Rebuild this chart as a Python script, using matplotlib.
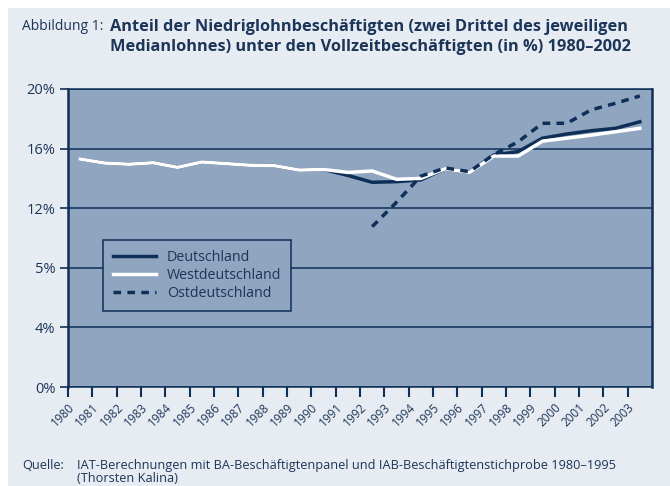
import matplotlib
matplotlib.use("Agg")
import matplotlib.pyplot as plt
from matplotlib.patches import Rectangle
import numpy as np

plt.rcParams['font.family'] = ['Open Sans', 'DejaVu Sans']

years = list(range(1980, 2004))
deutschland = [15.3, 15.03, 14.95, 15.05, 14.74, 15.1, 14.99, 14.88, 14.85, 14.56,
               14.6, 14.2, 13.74, 13.78, 13.9, 14.65, 14.4, 15.57, 15.8, 16.7,
               16.98, 17.2, 17.36, 17.8]
westdeutschland = [15.3, 15.03, 14.95, 15.05, 14.74, 15.1, 14.99, 14.88, 14.85, 14.56,
                   14.6, 14.4, 14.5, 13.94, 14.0, 14.65, 14.4, 15.5, 15.5, 16.5,
                   16.7, 16.9, 17.13, 17.36]
ostdeutschland = [None] * 12 + [10.76, 12.4, 14.15, 14.7, 14.45, 15.6, 16.46, 17.7,
                                17.7, 18.6, 19.04, 19.53]
ytick_vals = [0, 4, 8, 12, 16, 20]
ytick_labels = ['0%', '4%', '5%', '12%', '16%', '20%']

navy = '#0e2f57'
text_col = '#1c3558'
plot_bg = '#8fa5c0'
panel_bg = '#e7ecf3'

fig = plt.figure(figsize=(6.7, 4.86), dpi=100)
fig.patch.set_facecolor('white')
fig.patches.append(Rectangle((8 / 670, 0), 1, 478 / 486, transform=fig.transFigure,
                             facecolor=panel_bg, edgecolor='none', zorder=-10))

ax = fig.add_axes([68 / 670, 99 / 486, 584 / 670, 298 / 486])
ax.set_facecolor(plot_bg)

x = np.array(years) + 0.5
ost = np.array([np.nan if v is None else v for v in ostdeutschland], dtype=float)

l1, = ax.plot(x, deutschland, color=navy, lw=2.5, zorder=3, label='Deutschland')
l2, = ax.plot(x, westdeutschland, color='white', lw=2.5, zorder=4, label='Westdeutschland')
l3, = ax.plot(x, ost, color=navy, lw=2.5, ls=(0, (2.2, 1.8)), zorder=5, label='Ostdeutschland')

ax.set_xlim(1980, 2004)
ax.set_ylim(0, 20)
ax.set_yticks(ytick_vals)
ax.set_yticklabels(ytick_labels, fontsize=10.5, color=text_col)
ax.set_xticks(years)
ax.set_xticklabels([str(y) for y in years], rotation=45, ha='right',
                   rotation_mode='anchor', fontsize=8.5, color=text_col)
ax.tick_params(axis='x', length=7, width=1.5, color=navy, pad=3)
ax.tick_params(axis='y', length=6, width=1.2, color=navy, pad=3)
ax.grid(axis='y', color=navy, lw=1.1, zorder=1)
ax.set_axisbelow(True)
for side in ['left', 'right']:
    ax.spines[side].set_color(navy)
    ax.spines[side].set_linewidth(1.8)
for side in ['top', 'bottom']:
    ax.spines[side].set_color(navy)
    ax.spines[side].set_linewidth(1.1)

leg = ax.legend(handles=[l1, l2, l3], loc='upper left', bbox_to_anchor=(35 / 584, 147 / 298),
                borderaxespad=0, frameon=True, fancybox=False, fontsize=10.3, handlelength=3.0,
                labelspacing=0.2, borderpad=0.7, handletextpad=0.75, labelcolor=text_col)
leg.get_frame().set_facecolor(plot_bg)
leg.get_frame().set_edgecolor(navy)
leg.get_frame().set_linewidth(1.1)
leg.get_frame().set_alpha(1)
leg.set_zorder(6)

fig.text(22 / 670, 1 - 27 / 486, 'Abbildung 1:', fontsize=10, color=text_col, va='center')
fig.text(110 / 670, 1 - 27 / 486,
         'Anteil der Niedriglohnbeschäftigten (zwei Drittel des jeweiligen',
         fontsize=11.8, color=text_col, va='center', fontweight='bold')
fig.text(110 / 670, 1 - 47 / 486,
         'Medianlohnes) unter den Vollzeitbeschäftigten (in %) 1980–2002',
         fontsize=11.8, color=text_col, va='center', fontweight='bold')

fig.text(22 / 670, 1 - 465 / 486, 'Quelle:', fontsize=9.2, color=text_col, va='center')
fig.text(77 / 670, 1 - 465 / 486,
         'IAT-Berechnungen mit BA-Beschäftigtenpanel und IAB-Beschäftigtenstichprobe 1980–1995',
         fontsize=9.2, color=text_col, va='center')
fig.text(77 / 670, 1 - 478 / 486, '(Thorsten Kalina)', fontsize=9.2, color=text_col, va='center')

fig.savefig('out.png', dpi=100, facecolor=fig.get_facecolor())
